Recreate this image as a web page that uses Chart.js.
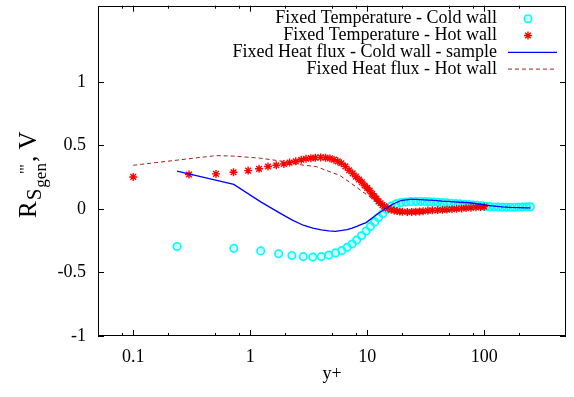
<!DOCTYPE html>
<html>
<head>
<meta charset="utf-8">
<script src="https://cdn.jsdelivr.net/npm/chart.js@4.4.1/dist/chart.umd.min.js"></script>
<style>
  body { margin: 0; background: #fff; }
  #wrap { width: 574px; height: 397px; }
</style>
</head>
<body>
<div id="wrap"><canvas id="chart" width="574" height="397"></canvas></div>
<script>
// y+ positions and values
const coldTempX = [0.237, 0.724, 1.23, 1.75, 2.27, 2.84, 3.43, 4.05, 4.70, 5.36, 6.07, 6.74, 7.43, 8.14, 8.93, 9.79, 10.65, 11.6, 12.5, 13.6, 14.7, 16.0, 17.6, 19.4, 21.4, 23.5, 26, 28.5, 31, 34, 37, 40, 44, 48, 52, 57, 62, 68, 74, 80, 87, 95, 103, 112, 122, 132, 143, 155, 168, 182, 197, 213, 230, 248];
const coldTempY = [-0.295, -0.31, -0.33, -0.352, -0.366, -0.375, -0.379, -0.375, -0.363, -0.346, -0.327, -0.302, -0.276, -0.245, -0.211, -0.173, -0.138, -0.102, -0.068, -0.036, -0.004, 0.022, 0.040, 0.050, 0.055, 0.058, 0.059, 0.059, 0.058, 0.057, 0.055, 0.053, 0.050, 0.048, 0.045, 0.042, 0.040, 0.037, 0.034, 0.031, 0.028, 0.025, 0.020, 0.018, 0.016, 0.015, 0.014, 0.013, 0.013, 0.014, 0.015, 0.016, 0.017, 0.017];

const hotTempX = [0.1, 0.30, 0.51, 0.72, 0.96, 1.19, 1.42, 1.67, 1.94, 2.17, 2.45, 2.73, 3.0, 3.3, 3.6, 4.0, 4.4, 4.8, 5.2, 5.6, 6.0, 6.5, 7.0, 7.5, 8.0, 8.5, 9.0, 9.5, 10, 10.5, 11, 11.5, 12, 12.5, 13, 13.5, 14, 15, 16, 17, 18, 19, 20, 22, 24, 26, 28, 30, 33, 36, 40, 44, 48, 53, 58, 64, 70, 77, 85, 93, 100];
const hotTempY = [0.252, 0.271, 0.276, 0.289, 0.302, 0.316, 0.334, 0.344, 0.354, 0.365, 0.375, 0.387, 0.395, 0.400, 0.404, 0.406, 0.404, 0.398, 0.388, 0.375, 0.36, 0.335, 0.305, 0.28, 0.255, 0.232, 0.21, 0.185, 0.165, 0.145, 0.12, 0.10, 0.08, 0.06, 0.045, 0.03, 0.02, 0.005, -0.005, -0.012, -0.017, -0.02, -0.022, -0.024, -0.023, -0.021, -0.02, -0.018, -0.013, -0.011, -0.009, -0.007, -0.005, -0.002, 0.001, 0.004, 0.007, 0.010, 0.013, 0.016, 0.018];

const coldFluxX = [0.237, 0.724, 1.23, 1.75, 2.27, 2.84, 3.43, 4.05, 4.70, 5.36, 6.07, 6.74, 7.43, 8.14, 8.93, 9.79, 10.65, 11.6, 12.5, 13.6, 14.7, 16.0, 17.6, 19.4, 21.4, 23.5, 26, 31, 37, 44, 52, 62, 74, 87, 103, 122, 143, 168, 197, 230, 248];
const coldFluxY = [0.297, 0.193, 0.056, -0.027, -0.086, -0.128, -0.150, -0.164, -0.173, -0.176, -0.169, -0.162, -0.150, -0.137, -0.122, -0.107, -0.082, -0.056, -0.033, -0.012, 0.009, 0.030, 0.049, 0.065, 0.071, 0.075, 0.076, 0.072, 0.068, 0.062, 0.058, 0.053, 0.049, 0.041, 0.031, 0.023, 0.016, 0.012, 0.010, 0.008, 0.008];

const hotFluxX = [0.1, 0.51, 0.72, 1.0, 1.21, 1.9, 2.64, 3.67, 5.08, 5.8, 7.2, 9.8, 12.7, 15.5, 18.8, 26, 34, 50, 70, 100];
const hotFluxY = [0.344, 0.42, 0.416, 0.406, 0.40, 0.375, 0.349, 0.333, 0.284, 0.265, 0.206, 0.115, 0.045, -0.003, -0.029, -0.037, -0.029, -0.012, 0.002, 0.014];

const xMajorTicks = [0.1, 1, 10, 100];
const xMinorTicks = [0.08, 0.2, 0.5, 0.8, 2, 5, 8, 20, 50, 80, 200];
const yTicks = [-1, -0.5, 0, 0.5, 1];

const FONT = '"Liberation Serif", "Times New Roman", serif';

function toPoints(xs, ys) {
  return xs.map((x, i) => ({ x: x, y: ys[i] }));
}

// gnuplot style border with inward ticks
const frameTicks = {
  id: 'frameTicks',
  afterDatasetsDraw(chart) {
    const { ctx, chartArea: a, scales: { x, y } } = chart;
    ctx.save();
    ctx.strokeStyle = '#000';
    ctx.lineWidth = 1;
    ctx.beginPath();
    const xTick = (v, len) => {
      const px = Math.round(x.getPixelForValue(v)) + 0.5;
      ctx.moveTo(px, a.bottom); ctx.lineTo(px, a.bottom - len);
      ctx.moveTo(px, a.top); ctx.lineTo(px, a.top + len);
    };
    xMajorTicks.forEach(v => xTick(v, 6));
    xMinorTicks.forEach(v => xTick(v, 3));
    yTicks.forEach(v => {
      const py = Math.round(y.getPixelForValue(v)) + 0.5;
      ctx.moveTo(a.left, py); ctx.lineTo(a.left + 6, py);
      ctx.moveTo(a.right, py); ctx.lineTo(a.right - 6, py);
    });
    ctx.stroke();
    ctx.strokeRect(Math.round(a.left) + 0.5, Math.round(a.top) + 0.5,
      Math.round(a.right - a.left) - 1, Math.round(a.bottom - a.top) - 1);
    ctx.restore();
  }
};

// legend inside the plot, text right aligned, sample on the right
const keyBox = {
  id: 'keyBox',
  afterDraw(chart) {
    const { ctx, chartArea: a } = chart;
    ctx.save();
    chart.data.datasets.forEach((ds, i) => {
      const yy = a.top + 13 + i * 16.8;
      ctx.font = '18px ' + FONT;
      ctx.fillStyle = '#000';
      ctx.textAlign = 'right';
      ctx.textBaseline = 'middle';
      ctx.fillText(ds.label, a.right - 69, yy);
      if (ds.showLine === false) {
        ctx.strokeStyle = ds.borderColor;
        ctx.fillStyle = ds.backgroundColor;
        ctx.lineWidth = ds.pointBorderWidth;
        Chart.helpers.drawPoint(ctx, {
          pointStyle: ds.pointStyle, rotation: 0,
          radius: ds.pointRadius, borderWidth: ds.pointBorderWidth
        }, a.right - 38, yy);
      } else {
        ctx.strokeStyle = ds.borderColor;
        ctx.lineWidth = ds.borderWidth;
        ctx.setLineDash(ds.borderDash || []);
        ctx.beginPath();
        ctx.moveTo(a.right - 58, yy);
        ctx.lineTo(a.right - 9, yy);
        ctx.stroke();
        ctx.setLineDash([]);
      }
    });
    ctx.restore();
  }
};

// rotated y label with sub/superscripts
const yTitle = {
  id: 'yTitle',
  afterDraw(chart) {
    const ctx = chart.ctx;
    ctx.save();
    ctx.translate(36, 218);
    ctx.rotate(-Math.PI / 2);
    ctx.fillStyle = '#000';
    ctx.textAlign = 'left';
    ctx.textBaseline = 'alphabetic';
    let u = 0;
    ctx.font = '25px ' + FONT;
    ctx.fillText('R', u, 0);
    u += ctx.measureText('R').width + 1;
    ctx.font = '21px ' + FONT;
    ctx.fillText('S', u, 5);
    u += ctx.measureText('S').width + 1;
    ctx.font = '17px ' + FONT;
    ctx.fillText('gen', u, 10);
    ctx.fillText("'''", u + 14, -5);
    u += ctx.measureText('gen').width + 1;
    ctx.font = '25px ' + FONT;
    ctx.fillText(', V', u, 0);
    ctx.restore();
  }
};

const ctx = document.getElementById('chart');

new Chart(ctx, {
  type: 'scatter',
  data: {
    datasets: [
      {
        label: 'Fixed Temperature - Cold wall',
        data: toPoints(coldTempX, coldTempY),
        showLine: false,
        pointStyle: 'circle',
        pointRadius: 3.7,
        pointBorderWidth: 1.7,
        borderColor: '#00ffff',
        backgroundColor: 'rgba(0,255,255,0.15)',
        order: 4
      },
      {
        label: 'Fixed Temperature - Hot wall',
        data: toPoints(hotTempX, hotTempY),
        showLine: false,
        pointStyle: 'star',
        pointRadius: 4,
        pointBorderWidth: 1.4,
        borderColor: '#ff0000',
        backgroundColor: '#ff0000',
        order: 3
      },
      {
        label: 'Fixed Heat flux - Cold wall - sample',
        data: toPoints(coldFluxX, coldFluxY),
        showLine: true,
        pointRadius: 0,
        borderColor: '#0000ff',
        borderWidth: 1.3,
        tension: 0,
        order: 2
      },
      {
        label: 'Fixed Heat flux - Hot wall',
        data: toPoints(hotFluxX, hotFluxY),
        showLine: true,
        pointRadius: 0,
        borderColor: '#a02020',
        borderWidth: 1,
        borderDash: [4, 3],
        tension: 0,
        order: 1
      }
    ]
  },
  options: {
    responsive: false,
    animation: false,
    layout: { padding: { top: 3, right: 8, left: 0, bottom: 0 } },
    plugins: {
      legend: { display: false },
      tooltip: { enabled: false }
    },
    scales: {
      x: {
        type: 'logarithmic',
        min: 0.05,
        max: 500,
        afterBuildTicks: scale => { scale.ticks = xMajorTicks.map(v => ({ value: v })); },
        afterFit: scale => {
          scale.height = 61;
          scale.paddingLeft = 0;
          scale.paddingRight = 0;
        },
        grid: { display: false, drawTicks: false },
        border: { display: false },
        ticks: {
          autoSkip: false,
          maxRotation: 0,
          padding: 10,
          color: '#000',
          font: { family: FONT, size: 18 },
          callback: v => String(v)
        },
        title: {
          display: true,
          text: 'y+',
          color: '#000',
          font: { family: FONT, size: 18 },
          padding: { top: 0, bottom: 12 }
        }
      },
      y: {
        min: -1,
        max: 1.6,
        afterBuildTicks: scale => { scale.ticks = yTicks.map(v => ({ value: v })); },
        afterFit: scale => {
          scale.width = 98;
          scale.paddingTop = 0;
          scale.paddingBottom = 0;
        },
        grid: { display: false, drawTicks: false },
        border: { display: false },
        ticks: {
          padding: 12,
          color: '#000',
          font: { family: FONT, size: 18 },
          callback: v => String(v)
        }
      }
    }
  },
  plugins: [frameTicks, keyBox, yTitle]
});
</script>
</body>
</html>
